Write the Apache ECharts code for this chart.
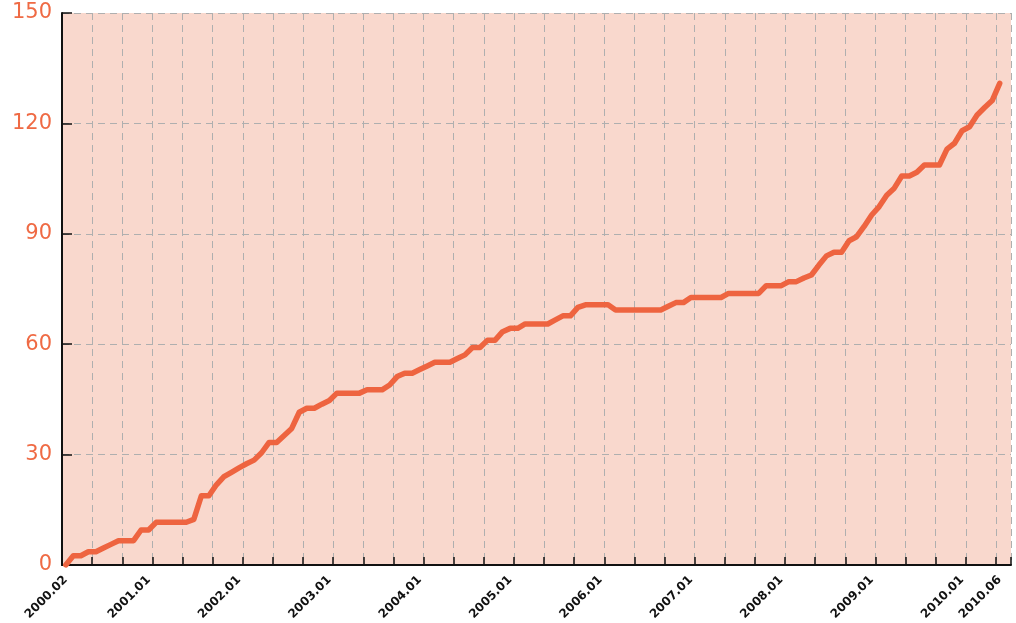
<!DOCTYPE html>
<html>
<head>
<meta charset="utf-8">
<script src="https://cdn.jsdelivr.net/npm/echarts@6/dist/echarts.min.js"></script>
<style>
html,body{margin:0;padding:0;background:#fff;}
#chart{width:1016px;height:623px;}
</style>
</head>
<body>
<div id="chart"></div>
<script>
// Monthly categories 2000.02 .. 2010.07 (the last one is empty padding on the right)
var startYear = 2000, startMonth = 2, monthCount = 126;
var categories = [];
for (var k = 0; k < monthCount; k++) {
  var m = startMonth - 1 + k;
  var y = startYear + Math.floor(m / 12);
  var mm = (m % 12) + 1;
  categories.push(y + '.' + (mm < 10 ? '0' + mm : mm));
}

// Labels shown on the x axis
var shownLabels = ['2000.02','2001.01','2002.01','2003.01','2004.01','2005.01',
  '2006.01','2007.01','2008.01','2009.01','2010.01','2010.06'];

// Y-axis ticks
var yTicks = [0, 30, 60, 90, 120, 150];

// Series values (2000.02 .. 2010.06)
var values = [
  0, 2.5, 2.5, 3.6, 3.6, 4.6, 5.6, 6.6, 6.6, 6.6, 9.5, 9.5,          // 2000.02-2001.01
  11.6, 11.6, 11.6, 11.6, 11.6, 12.4, 18.8, 18.8, 21.8, 24, 25.2, 26.4, // 2001.02-2002.01
  27.5, 28.5, 30.5, 33.3, 33.3, 35.2, 37.1, 41.5, 42.6, 42.6, 43.7, 44.7, // 2002.02-2003.01
  46.7, 46.7, 46.7, 46.7, 47.6, 47.6, 47.6, 48.9, 51.2, 52.1, 52.1, 53.1, // 2003.02-2004.01
  54.1, 55.1, 55.1, 55.1, 56.1, 57.1, 59.1, 59.1, 61.1, 61.1, 63.4, 64.3, // 2004.02-2005.01
  64.3, 65.5, 65.5, 65.5, 65.5, 66.6, 67.7, 67.7, 70, 70.7, 70.7, 70.7,   // 2005.02-2006.01
  70.7, 69.3, 69.3, 69.3, 69.3, 69.3, 69.3, 69.3, 70.3, 71.3, 71.3, 72.7, // 2006.02-2007.01
  72.7, 72.7, 72.7, 72.7, 73.8, 73.8, 73.8, 73.8, 73.8, 75.9, 75.9, 75.9, // 2007.02-2008.01
  77, 77, 78, 78.8, 81.5, 84, 85, 85, 88.1, 89.2, 92, 95.1,             // 2008.02-2009.01
  97.4, 100.5, 102.4, 105.7, 105.7, 106.7, 108.7, 108.7, 108.7, 113, 114.6, 118, // 2009.02-2010.01
  119.1, 122.3, 124.3, 126.2, 130.9                                      // 2010.02-2010.06
];

var lastIndex = values.length - 1;
function tickAt(i) { return i % 4 === 0 && i <= lastIndex; }

var chart = echarts.init(document.getElementById('chart'), null, {renderer: 'canvas'});
chart.setOption({
  animation: false,
  backgroundColor: '#ffffff',
  grid: {
    left: 62, right: 5, top: 13, bottom: 58,
    show: true, backgroundColor: '#f9d8cd', borderWidth: 0
  },
  xAxis: {
    type: 'category',
    data: categories,
    boundaryGap: true,
    axisLine: {show: true, onZero: false, lineStyle: {color: '#111', width: 2}},
    axisTick: {show: true, inside: true, length: 8, alignWithLabel: false,
      interval: function (i) { return tickAt(i); },
      lineStyle: {color: '#111', width: 1.5}},
    axisLabel: {
      interval: function (i, v) { return shownLabels.indexOf(v) >= 0; },
      rotate: 45, margin: 13, color: '#111',
      fontFamily: 'DejaVu Sans', fontWeight: 'bold', fontSize: 12
    },
    splitLine: {show: true, interval: function (i) { return tickAt(i) && i > 0; },
      lineStyle: {color: '#afafaf', width: 1, type: [7, 5]}}
  },
  yAxis: {
    type: 'value',
    min: yTicks[0], max: yTicks[yTicks.length - 1], interval: 30,
    axisLine: {show: true, lineStyle: {color: '#111', width: 2}},
    axisTick: {show: true, inside: true, length: 10, lineStyle: {color: '#111', width: 1.5}},
    axisLabel: {color: '#ef6a44', fontSize: 21, fontFamily: 'DejaVu Sans', margin: 10},
    splitLine: {show: true, lineStyle: {color: '#afafaf', width: 1, type: [7, 5]}}
  },
  series: [{
    type: 'line',
    data: values,
    showSymbol: false,
    symbol: 'none',
    smooth: false,
    lineStyle: {color: '#ee6440', width: 5.5, join: 'round', cap: 'round'}
  }]
});
</script>
</body>
</html>
